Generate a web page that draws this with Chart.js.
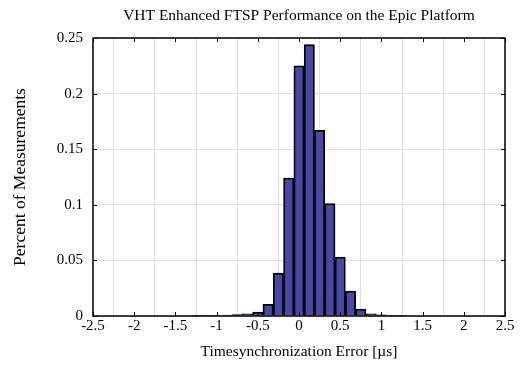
<!DOCTYPE html>
<html>
<head>
<meta charset="utf-8">
<script src="https://cdn.jsdelivr.net/npm/chart.js@4.4.0/dist/chart.umd.min.js"></script>
<style>
  html, body { margin: 0; padding: 0; background: #fff; }
  #wrap { width: 523px; height: 366px; }
</style>
</head>
<body>
<div id="wrap"><canvas id="histChart" width="523" height="366"></canvas></div>
<script>
// histogram bin centres (µs) and fraction of measurements in each bin
const binCenters = [-1.25, -1.125, -1.0, -0.875, -0.75, -0.625, -0.5, -0.375, -0.25, -0.125,
                    0, 0.125, 0.25, 0.375, 0.5, 0.625, 0.75, 0.875, 1.0, 1.125, 1.25];
const percentMeasured = [0.0002, 0.0003, 0.0005, 0.0008, 0.0012, 0.002, 0.0035, 0.0105, 0.0385, 0.124,
                         0.225, 0.244, 0.167, 0.101, 0.053, 0.0225, 0.0062, 0.002, 0.001, 0.0006, 0.0003];
const xTicks = [-2.5, -2, -1.5, -1, -0.5, 0, 0.5, 1, 1.5, 2, 2.5];
const yTicks = [0, 0.05, 0.1, 0.15, 0.2, 0.25];

const serif = 'Liberation Serif';

// box round the plot with short inward ticks on all four sides
const boxTicks = {
    id: 'boxTicks',
    afterDraw(chart) {
        const {ctx, chartArea: a, scales: {x, y}} = chart;
        ctx.save();
        ctx.strokeStyle = '#000';
        ctx.lineWidth = 1;
        xTicks.forEach(v => {
            const px = Math.round(x.getPixelForValue(v)) + 0.5;
            ctx.beginPath();
            ctx.moveTo(px, a.top); ctx.lineTo(px, a.top + 4);
            ctx.moveTo(px, a.bottom); ctx.lineTo(px, a.bottom - 4);
            ctx.stroke();
        });
        yTicks.forEach(v => {
            const py = Math.round(y.getPixelForValue(v)) + 0.5;
            ctx.beginPath();
            ctx.moveTo(a.left, py); ctx.lineTo(a.left + 4, py);
            ctx.moveTo(a.right, py); ctx.lineTo(a.right - 4, py);
            ctx.stroke();
        });
        ctx.lineWidth = 1.5;
        ctx.strokeRect(a.left, a.top, a.right - a.left, a.bottom - a.top);
        ctx.restore();
    }
};

const ctx = document.getElementById('histChart').getContext('2d');
const histChart = new Chart(ctx, {
    type: 'bar',
    data: {
        datasets: [{
            data: binCenters.map((c, i) => ({x: c, y: percentMeasured[i]})),
            backgroundColor: '#4848a6',
            borderColor: '#000',
            borderWidth: 1.8,
            barPercentage: 1,
            categoryPercentage: 1
        }]
    },
    options: {
        responsive: false,
        animation: false,
        layout: { padding: { left: 0, right: 18, top: 0, bottom: 0 } },
        plugins: {
            legend: { display: false },
            tooltip: { enabled: false },
            title: {
                display: true,
                fullSize: false,
                text: 'VHT Enhanced FTSP Performance on the Epic Platform',
                color: '#000',
                font: { family: serif, size: 15.5, weight: 'normal' },
                padding: { top: 7, bottom: 12.4 }
            }
        },
        scales: {
            x: {
                type: 'linear',
                min: -2.5,
                max: 2.5,
                offset: false,
                afterBuildTicks: s => { s.ticks = xTicks.map(v => ({value: v})); },
                afterFit: s => { s.height = 50; },
                ticks: {
                    color: '#000',
                    font: { family: serif, size: 15 },
                    padding: 1,
                    maxRotation: 0,
                    callback: v => String(v)
                },
                grid: { color: '#e0e0e0', drawTicks: false },
                border: { display: false },
                title: {
                    display: true,
                    text: 'Timesynchronization Error [µs]',
                    color: '#000',
                    font: { family: serif, size: 15.5 },
                    padding: { top: 0, bottom: 5 }
                }
            },
            y: {
                min: 0,
                max: 0.25,
                afterBuildTicks: s => { s.ticks = yTicks.map(v => ({value: v})); },
                afterFit: s => { s.width = 93; },
                ticks: {
                    color: '#000',
                    font: { family: serif, size: 15 },
                    padding: 10,
                    callback: v => String(v)
                },
                grid: { color: '#e0e0e0', drawTicks: false },
                border: { display: false },
                title: {
                    display: true,
                    text: 'Percent of Measurements',
                    color: '#000',
                    font: { family: serif, size: 17.5 },
                    padding: { top: 10, bottom: 0 }
                }
            }
        }
    },
    plugins: [boxTicks]
});
</script>
</body>
</html>
